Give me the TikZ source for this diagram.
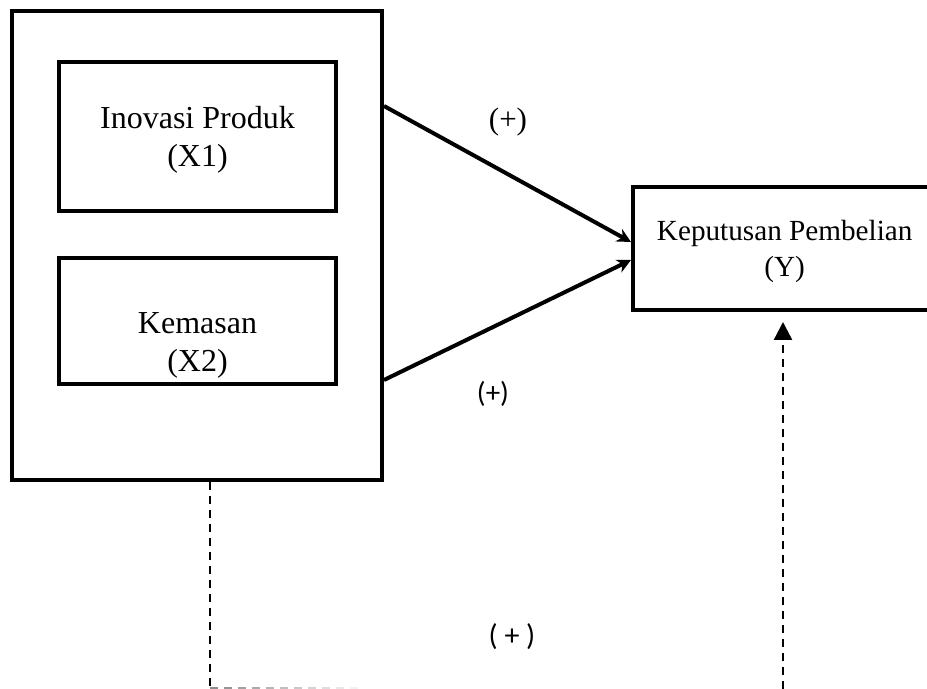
\documentclass[tikz,border=0pt]{standalone}
\usepackage{fontspec}
\setmainfont{Liberation Serif}
\newfontfamily\calibrifont{Carlito}
\usetikzlibrary{arrows.meta,positioning}

\begin{document}
\begin{tikzpicture}[x=0.5pt,y=-0.5pt,
    varbox/.style={draw, line width=2pt, inner sep=0pt},
    vartext/.style={align=center, inner sep=0pt, font=\fontsize{16}{19}\selectfont},
    effect/.style={line width=2pt, -{Stealth[length=7pt,width=7pt]}},
    dashline/.style={line width=1.2pt, dash pattern=on 4pt off 3pt}]
    \useasboundingbox (0,0) rectangle (927,689);
    % variabel bebas
    \node[varbox, minimum width=185pt, minimum height=234.5pt] (outer) at (197,245.5) {};
    \node[varbox, minimum width=138.5pt, minimum height=74.5pt] (xone) at (197.5,136.5) {};
    \node[varbox, minimum width=138.5pt, minimum height=63pt] (xtwo) at (197.5,321) {};
    \node[vartext] (xonetext) at (197.5,140) {Inovasi Produk\\(X1)};
    \node[vartext] (xtwotext) at (197.5,345) {Kemasan\\(X2)};
    % variabel terikat
    \node[varbox, minimum width=151.5pt, minimum height=61.5pt] (ybox) at (784.5,248.5) {};
    \node[vartext, font=\fontsize{14.6}{18}\selectfont] (ytext) at (784.7,251.5) {Keputusan Pembelian\\(Y)};
    % pengaruh parsial
    \draw[effect] ([yshift=-48.5pt]outer.north east) -- ([yshift=3.25pt]ybox.west);
    \draw[effect] ([yshift=51pt]outer.south east) -- ([yshift=-5.75pt]ybox.west);
    \node[font=\fontsize{15.5}{18}\selectfont] (plusone) at (508,122) {(+)};
    \node[font=\calibrifont\fontsize{14.5}{17}\selectfont] (plustwo) at (493,394) {(+)};
    % pengaruh simultan
    \coordinate (lcorner) at (210,688);
    \coordinate (ybottom) at (783,689);
    \draw[dashline] ([xshift=6.5pt]outer.south) -- (lcorner);
    \foreach \i in {0,...,10} {
        \pgfmathtruncatemacro\shade{45-4*\i}
        \draw[black!\shade, line width=0.7pt] (210+14*\i,688) -- (218+14*\i,688);
    }
    \draw[dashline, -{Triangle[length=9pt,width=9pt]}, shorten >=5pt] (ybottom) -- (ybottom |- ybox.south);
    \node[font=\calibrifont\fontsize{15}{18}\selectfont] (plusthree) at (512,637) {( + )};
\end{tikzpicture}
\end{document}
